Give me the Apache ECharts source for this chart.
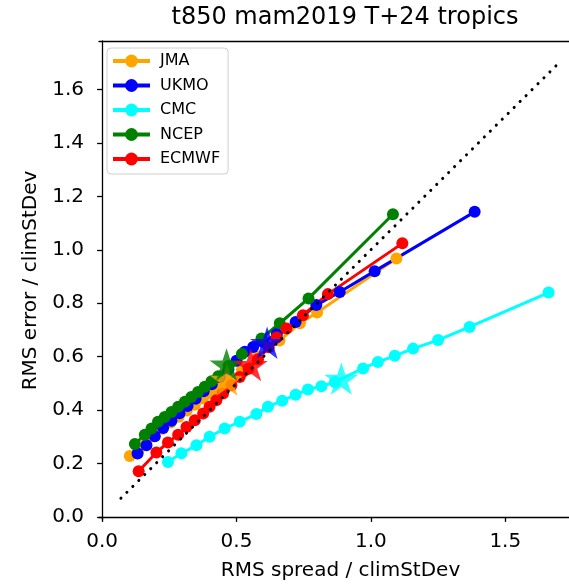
<!DOCTYPE html>
<html>
<head>
<meta charset="utf-8">
<script src="https://cdn.jsdelivr.net/npm/echarts@6/dist/echarts.min.js"></script>
<style>
html,body{margin:0;padding:0;background:#fff;}
#chart{width:569px;height:588px;}
</style>
</head>
<body>
<div id="chart"></div>
<script>
// ---- data ----
const titleText = 't850 mam2019 T+24 tropics';
const xName = 'RMS spread / climStDev';
const yName = 'RMS error / climStDev';
const modelNames = ['JMA', 'UKMO', 'CMC', 'NCEP', 'ECMWF'];
const modelColors = ['#FFA500', '#0000FF', '#00FFFF', '#008000', '#FF0000'];

const jmaSpread = [0.103, 0.135, 0.165, 0.195, 0.225, 0.255, 0.285, 0.315, 0.345, 0.375, 0.405, 0.435, 0.465, 0.52, 0.58, 0.66, 0.736, 0.80, 1.095];
const jmaError  = [0.228, 0.250, 0.278, 0.303, 0.330, 0.353, 0.375, 0.398, 0.420, 0.443, 0.463, 0.485, 0.508, 0.55, 0.60, 0.66, 0.725, 0.765, 0.967];

const ukmoSpread = [0.132, 0.165, 0.196, 0.227, 0.258, 0.288, 0.318, 0.348, 0.378, 0.408, 0.438, 0.47, 0.50, 0.531, 0.562, 0.60, 0.65, 0.72, 0.797, 0.884, 1.014, 1.386];
const ukmoError  = [0.237, 0.268, 0.302, 0.333, 0.360, 0.388, 0.415, 0.442, 0.470, 0.497, 0.524, 0.552, 0.585, 0.618, 0.636, 0.655, 0.685, 0.73, 0.793, 0.842, 0.920, 1.142];

const cmcSpread = [0.245, 0.295, 0.351, 0.400, 0.456, 0.512, 0.574, 0.617, 0.67, 0.72, 0.766, 0.816, 0.866, 0.971, 1.026, 1.089, 1.157, 1.250, 1.367, 1.661];
const cmcError  = [0.206, 0.238, 0.268, 0.300, 0.331, 0.356, 0.385, 0.412, 0.435, 0.457, 0.477, 0.489, 0.505, 0.556, 0.580, 0.603, 0.630, 0.662, 0.711, 0.840];

const ncepSpread = [0.122, 0.159, 0.184, 0.208, 0.233, 0.258, 0.283, 0.308, 0.332, 0.357, 0.382, 0.407, 0.432, 0.47, 0.52, 0.593, 0.661, 0.768, 1.082];
const ncepError  = [0.273, 0.308, 0.331, 0.356, 0.374, 0.393, 0.412, 0.431, 0.449, 0.468, 0.487, 0.508, 0.527, 0.565, 0.61, 0.668, 0.725, 0.818, 1.133];

const ecmwfSpread = [0.136, 0.202, 0.245, 0.283, 0.314, 0.345, 0.376, 0.400, 0.425, 0.450, 0.481, 0.512, 0.545, 0.58, 0.62, 0.649, 0.686, 0.747, 0.840, 1.117];
const ecmwfError  = [0.171, 0.241, 0.279, 0.308, 0.337, 0.362, 0.387, 0.412, 0.437, 0.462, 0.493, 0.524, 0.555, 0.59, 0.635, 0.672, 0.705, 0.755, 0.834, 1.024];

// star markers (one per model, same order as modelNames)
const starSpread = [0.465, 0.614, 0.890, 0.463, 0.553];
const starError  = [0.508, 0.646, 0.512, 0.565, 0.563];

// dotted reference diagonal (spread == error)
const diagEnds = [0.07, 1.7];

// axis ticks and ranges (the right spine lies just outside the picture)
const xTicks = [0.0, 0.5, 1.0, 1.5];
const yTicks = [0.0, 0.2, 0.4, 0.6, 0.8, 1.0, 1.2, 1.4, 1.6];
const xMin = -0.0115, xMax = 1.737;
const yMin = -0.0115, yMax = 1.7815;

// ---- chart ----
const spreads = [jmaSpread, ukmoSpread, cmcSpread, ncepSpread, ecmwfSpread];
const errors = [jmaError, ukmoError, cmcError, ncepError, ecmwfError];
const pairs = (xs, ys) => xs.map((x, i) => [x, ys[i]]);

// five-pointed star path
function starPath() {
  const pts = [];
  for (let k = 0; k < 10; k++) {
    const r = (k % 2 === 0) ? 100 : 38.2;
    const a = (-90 + k * 36) * Math.PI / 180;
    pts.push((r * Math.cos(a)).toFixed(2) + ' ' + (r * Math.sin(a)).toFixed(2));
  }
  return 'path://M' + pts.join(' L') + ' Z';
}
const STAR = starPath();

const FONT = 'DejaVu Sans';
const series = [];
modelNames.forEach((name, i) => {
  series.push({
    name: name,
    type: 'line',
    data: pairs(spreads[i], errors[i]),
    symbol: 'circle',
    symbolSize: 12,
    showAllSymbol: true,
    lineStyle: { color: modelColors[i], width: 3 },
    itemStyle: { color: modelColors[i] },
    emphasis: { disabled: true },
    z: 2
  });
});
modelNames.forEach((name, i) => {
  series.push({
    name: name + ' star',
    type: 'scatter',
    data: [[starSpread[i], starError[i]]],
    symbol: STAR,
    symbolSize: [34, 32.5],
    symbolOffset: [0, -1.6],
    itemStyle: { color: modelColors[i] },
    emphasis: { disabled: true },
    z: 3
  });
});
series.push({
  name: 'diag',
  type: 'line',
  data: [[diagEnds[0], diagEnds[0]], [diagEnds[1], diagEnds[1]]],
  symbol: 'none',
  lineStyle: { color: '#000', width: 3, type: [0.1, 8.3], cap: 'round' },
  emphasis: { disabled: true },
  z: 4
});

const axisBase = {
  type: 'value',
  nameTextStyle: { fontFamily: FONT, fontSize: 20, color: '#000' },
  axisLine: { show: true, lineStyle: { color: '#000', width: 1.3 } },
  splitLine: { show: false }
};

const chart = echarts.init(document.getElementById('chart'), null, { renderer: 'canvas' });
chart.setOption({
  animation: false,
  backgroundColor: '#fff',
  title: {
    text: titleText,
    left: 340, top: 1,
    textAlign: 'center',
    textStyle: { fontFamily: FONT, fontSize: 24, fontWeight: 'normal', color: '#000' }
  },
  legend: {
    data: modelNames,
    orient: 'vertical',
    left: 107, top: 48,
    itemWidth: 37, itemHeight: 16, itemGap: 8.5,
    padding: [5, 8, 7, 4],
    borderColor: '#d0d0d0', borderWidth: 1, borderRadius: 4,
    backgroundColor: 'rgba(255,255,255,0.8)',
    lineStyle: { width: 4 },
    textStyle: { fontFamily: FONT, fontSize: 16, color: '#000', padding: [0, 0, 0, 5], lineHeight: 16 }
  },
  grid: {
    left: 99, top: 41, right: 0, height: 479,
    show: false
  },
  xAxis: [
    Object.assign({}, axisBase, {
      min: xMin, max: xMax,
      name: xName, nameLocation: 'middle', nameGap: 41,
      nameTextStyle: { fontFamily: FONT, fontSize: 20, color: '#000', padding: [0, 0, 0, 13] },
      axisTick: { show: true, length: 5, customValues: xTicks, lineStyle: { color: '#000', width: 1.3 } },
      axisLabel: { customValues: xTicks, formatter: v => v.toFixed(1), fontFamily: FONT, fontSize: 20, color: '#000', margin: 12 }
    }),
    Object.assign({}, axisBase, {
      min: xMin, max: xMax, position: 'top',
      axisTick: { show: false }, axisLabel: { show: false }
    })
  ],
  yAxis: {
    type: 'value', min: yMin, max: yMax,
    name: yName, nameLocation: 'middle', nameGap: 58,
    nameTextStyle: { fontFamily: FONT, fontSize: 20, color: '#000' },
    axisLine: { show: true, lineStyle: { color: '#000', width: 1.3 } },
    axisTick: { show: true, length: 5, customValues: yTicks, lineStyle: { color: '#000', width: 1.3 } },
    axisLabel: { customValues: yTicks, formatter: v => v.toFixed(1), fontFamily: FONT, fontSize: 20, color: '#000', margin: 15 },
    splitLine: { show: false }
  },
  series: series
});
</script>
</body>
</html>
